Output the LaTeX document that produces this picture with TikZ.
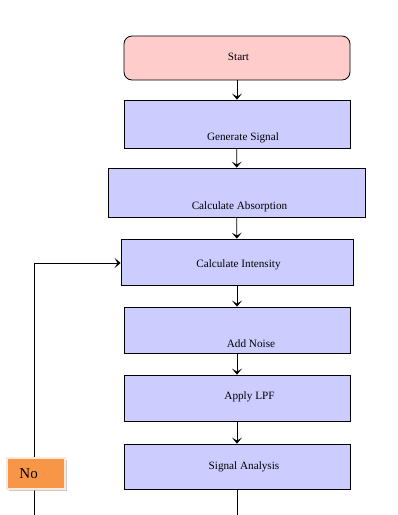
\documentclass[tikz,border=0pt]{standalone}
\usepackage{fontspec}
\setmainfont{Liberation Serif}
\usetikzlibrary{arrows.meta,shadows}
\definecolor{boxblue}{HTML}{CCCCFF}
\definecolor{boxpink}{HTML}{FFCCCC}
\definecolor{noorange}{HTML}{F79646}
\definecolor{noedge}{HTML}{FBE9DA}
\newcommand{\placetext}[3]{\makebox[0pt]{\hspace*{#1}\hspace*{#1}\smash{\raisebox{#2}{#3}}}}
\tikzset{
  procbox/.style={draw=black, line width=0.8pt, fill=boxblue, minimum width=226pt, minimum height=46pt, inner sep=0pt, font=\fontsize{11.2}{13}\selectfont},
  startbox/.style={procbox, fill=boxpink, rounded corners=8pt, minimum height=44pt},
  flow/.style={draw=black, line width=0.8pt, -{Stealth[length=6pt,width=10pt,inset=3pt]}},
  plain/.style={draw=black, line width=0.8pt},
  nobox/.style={fill=noorange, draw=noedge, line width=2pt, minimum width=58pt, minimum height=31pt, inner sep=0pt, font=\fontsize{15}{17}\selectfont, drop shadow={shadow xshift=2pt, shadow yshift=-2pt, fill=black!35, opacity=0.6}}
}
\begin{document}
\begin{tikzpicture}[x=1pt,y=-1pt]
\useasboundingbox (0,0) rectangle (398,515);
\node[startbox] (start) at (237,58) {\placetext{1.5pt}{-2pt}{Start}};
\node[procbox, minimum height=48pt] (gen) at (237,124) {\placetext{6pt}{-16.5pt}{Generate Signal}};
\node[procbox, minimum width=257pt, minimum height=49pt] (abs) at (236.5,192.5) {\placetext{3pt}{-16.5pt}{Calculate Absorption}};
\node[procbox, minimum width=232pt] (int) at (237,262) {\placetext{1.5pt}{-5pt}{Calculate Intensity}};
\node[procbox] (noise) at (237,330) {\placetext{14pt}{-17pt}{Add Noise}};
\node[procbox] (lpf) at (237,398) {\placetext{12.5pt}{-1.5pt}{Apply LPF}};
\node[procbox, minimum height=45pt] (ana) at (237,466.5) {\placetext{7pt}{-2.5pt}{Signal Analysis}};
\coordinate (outa) at (237,516);
\coordinate (loopb) at (34,516);
\coordinate (loopc) at (34,263);
\draw[flow] (start) -- (gen);
\draw[flow] (gen) -- (abs);
\draw[flow] (abs) -- (int);
\draw[flow] (int) -- (noise);
\draw[flow] (noise) -- (lpf);
\draw[flow] (lpf) -- (ana);
\draw[plain] (ana) -- (outa);
\draw[flow] (loopb) -- (loopc) -- (int.west |- loopc);
\node[nobox] (no) at (35.5,473) {\makebox[58pt][l]{\hspace{13pt}\smash{\raisebox{-5pt}{No}}}};
\end{tikzpicture}
\end{document}
